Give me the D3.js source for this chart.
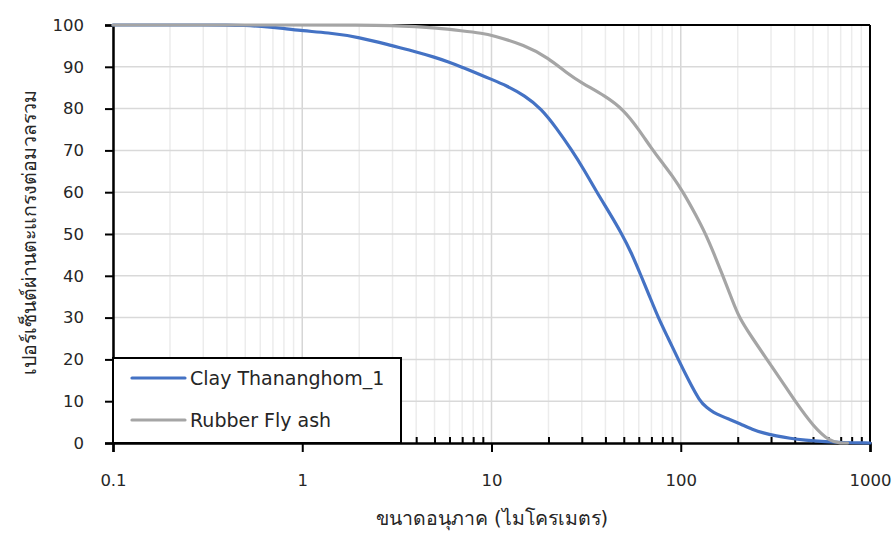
<!DOCTYPE html>
<html>
<head>
<meta charset="utf-8">
<script src="https://cdn.jsdelivr.net/npm/d3@7"></script>
<style>
  html, body { margin: 0; padding: 0; background: #fff; }
  svg { display: block; }
  text { font-family: "DejaVu Sans", Tahoma, sans-serif; fill: #262626; }
</style>
</head>
<body>
<svg id="chart" width="896" height="538"></svg>
<script>
// Particle size (micrometres) and cumulative percent passing for each material
const claySize = [0.1, 0.2, 0.3, 0.4, 0.5, 0.6, 0.8, 1, 1.35, 2, 3, 4, 5, 6, 7, 8, 10, 12, 15, 18.3, 22, 26.6, 31, 36, 42, 48.9, 55, 61.7, 68, 76, 86, 97, 110, 126, 137, 149, 165, 180, 206, 240, 272, 320, 378, 450, 590, 700, 1000];
const clayPass = [100, 100, 100, 100, 99.9, 99.7, 99.2, 98.6, 98.2, 97.1, 95, 93.6, 92.3, 91.1, 89.9, 88.8, 87, 85.5, 83.1, 80, 75.4, 70, 65.2, 60, 55.1, 50, 45.4, 40, 35.4, 30, 25, 20, 15, 10, 8.5, 7.3, 6.4, 5.7, 4.6, 3.2, 2.4, 1.7, 1.1, 0.7, 0.3, 0.1, 0];

const ashSize = [0.1, 1, 2, 3, 4, 5, 7, 9, 10, 15, 20, 25, 30, 40, 50, 60, 70, 80, 90, 103, 120, 136, 150, 167, 185, 203, 240, 285, 340, 402, 501, 615, 700, 760];
const ashPass = [100, 100, 100, 99.9, 99.6, 99.3, 98.6, 98, 97.6, 95.2, 92.1, 88.5, 86.1, 83, 79.7, 75, 70.5, 67, 64, 60, 54.6, 49.8, 45.2, 40, 34.8, 30, 25, 20, 15, 10, 4, 0.3, 0, 0];

const seriesNames = ["Clay Thananghom_1", "Rubber Fly ash"];
const seriesColors = ["#4472C4", "#A5A5A5"];

const yTicks = [0, 10, 20, 30, 40, 50, 60, 70, 80, 90, 100];
const xMajorTicks = [0.1, 1, 10, 100, 1000];
const xTickLabels = ["0.1", "1", "10", "100", "1000"];

const xTitle = "ขนาดอนุภาค (ไมโครเมตร)";
const yTitle = "เปอร์เซ็นต์ผ่านตะแกรงต่อมวลรวม";

const svg = d3.select("#chart");
const plotLeft = 113, plotRight = 870, plotTop = 25, plotBottom = 443;

const x = d3.scaleLog().domain([0.1, 1000]).range([plotLeft, plotRight]);
const y = d3.scaleLinear().domain([0, 100]).range([plotBottom, plotTop]);

const allLogTicks = x.ticks();
const minorTicks = allLogTicks.filter(t => !xMajorTicks.some(m => Math.abs(m - t) / m < 1e-9));

// Gridlines
const grid = svg.append("g");
grid.selectAll("line.vminor").data(minorTicks).join("line")
  .attr("class", "vminor")
  .attr("x1", d => x(d)).attr("x2", d => x(d))
  .attr("y1", plotTop).attr("y2", plotBottom)
  .attr("stroke", "#ececec").attr("stroke-width", 1.5);
grid.selectAll("line.vmajor").data(xMajorTicks).join("line")
  .attr("class", "vmajor")
  .attr("x1", d => x(d)).attr("x2", d => x(d))
  .attr("y1", plotTop).attr("y2", plotBottom)
  .attr("stroke", "#d6d6d6").attr("stroke-width", 1.5);
grid.selectAll("line.h").data(yTicks.filter(t => t > 0 && t < 100)).join("line")
  .attr("class", "h")
  .attr("x1", plotLeft).attr("x2", plotRight)
  .attr("y1", d => y(d)).attr("y2", d => y(d))
  .attr("stroke", "#d9d9d9").attr("stroke-width", 1.5);

// Plot frame (top and right)
svg.append("line").attr("x1", plotLeft).attr("x2", plotRight).attr("y1", plotTop).attr("y2", plotTop)
  .attr("stroke", "#000").attr("stroke-width", 2);
svg.append("line").attr("x1", plotRight).attr("x2", plotRight).attr("y1", plotTop).attr("y2", plotBottom)
  .attr("stroke", "#000").attr("stroke-width", 2);

// Y axis
const yAxis = svg.append("g").attr("transform", `translate(${plotLeft},0)`)
  .call(d3.axisLeft(y).tickValues(yTicks).tickSize(8).tickPadding(21).tickFormat(d3.format("d")));
yAxis.select(".domain").attr("stroke", "#000").attr("stroke-width", 2.5);
yAxis.selectAll(".tick line").attr("stroke", "#000").attr("stroke-width", 2);
yAxis.selectAll(".tick text").attr("font-size", 16.5).attr("fill", "#262626")
  .attr("font-family", "DejaVu Sans, sans-serif");

// X axis: minor ticks point inward, decade ticks point outward
const xMinor = svg.append("g").attr("transform", `translate(0,${plotBottom})`)
  .call(d3.axisBottom(x).tickValues(minorTicks).tickSize(-6).tickFormat(""));
xMinor.select(".domain").remove();
xMinor.selectAll(".tick line").attr("stroke", "#000").attr("stroke-width", 2);

const xAxis = svg.append("g").attr("transform", `translate(0,${plotBottom})`)
  .call(d3.axisBottom(x).tickValues(xMajorTicks).tickSize(9).tickPadding(22)
    .tickFormat((d, i) => xTickLabels[i]));
xAxis.select(".domain").attr("stroke", "#000").attr("stroke-width", 2.5);
xAxis.selectAll(".tick line").attr("stroke", "#000").attr("stroke-width", 2);
xAxis.selectAll(".tick text").attr("font-size", 16.5).attr("fill", "#262626")
  .attr("font-family", "DejaVu Sans, sans-serif");

// Series
const line = d3.line().x(d => x(d[0])).y(d => y(d[1])).curve(d3.curveBasis);
const seriesData = [
  d3.zip(claySize, clayPass),
  d3.zip(ashSize, ashPass)
];
svg.append("g").selectAll("path").data(seriesData).join("path")
  .attr("d", line)
  .attr("fill", "none")
  .attr("stroke", (d, i) => seriesColors[i])
  .attr("stroke-width", 3.2)
  .attr("stroke-linejoin", "round")
  .attr("stroke-linecap", "round");

// Legend
const lg = svg.append("g");
lg.append("rect").attr("x", plotLeft).attr("y", 358).attr("width", 288).attr("height", 85)
  .attr("fill", "#fff").attr("stroke", "#000").attr("stroke-width", 2);
const entries = lg.selectAll("g.entry").data(seriesNames).join("g")
  .attr("class", "entry")
  .attr("transform", (d, i) => `translate(0,${378 + i * 42})`);
entries.append("line").attr("x1", 132).attr("x2", 185).attr("y1", 0).attr("y2", 0)
  .attr("stroke", (d, i) => seriesColors[i]).attr("stroke-width", 3.2).attr("stroke-linecap", "round");
entries.append("text").attr("x", 190).attr("y", 0).attr("dy", "0.36em")
  .attr("font-size", 19).text(d => d);

// Axis titles
svg.append("text").attr("x", 492).attr("y", 525).attr("text-anchor", "middle")
  .attr("font-size", 19.5).text(xTitle);
svg.append("text").attr("transform", "translate(36,232) rotate(-90)")
  .attr("text-anchor", "middle").attr("font-size", 19.5).text(yTitle);
</script>
</body>
</html>
